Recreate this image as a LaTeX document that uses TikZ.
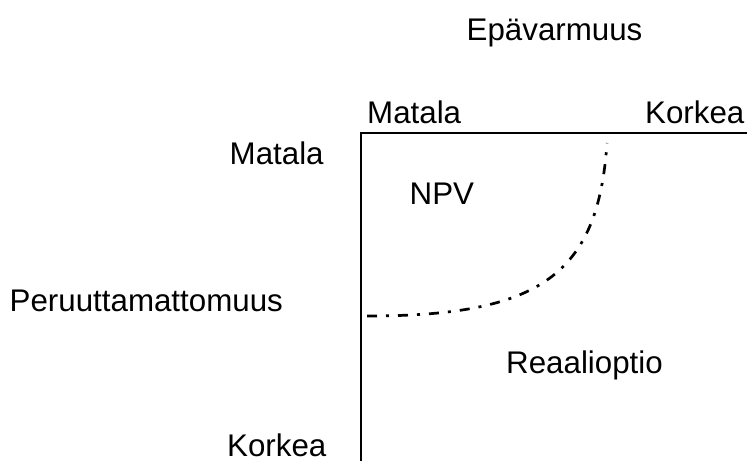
\documentclass[tikz,border=0pt]{standalone}
\usepackage{fontspec}
\setmainfont{Liberation Sans}
\usetikzlibrary{positioning}

\begin{document}
\begin{tikzpicture}[
    x=1pt, y=-1pt,
    lbl/.style={anchor=base west, inner sep=0pt, font=\fontsize{31.3}{37}\selectfont},
    axis/.style={draw, line width=1.2pt},
    boundary/.style={line width=2.7pt, dash pattern=on 10pt off 9pt on 3pt off 9pt}
]
\useasboundingbox (0,0) rectangle (747,461);
% axes
\coordinate (origin) at (361,133);
\coordinate (xend) at (747,133);
\coordinate (yend) at (361,461);
\draw[axis] (xend) -- (origin) -- (yend);

% labels
\node[lbl] (uncert) at (466.5,40) {Epävarmuus};
\node[lbl] (ulow) at (367,123) {Matala};
\node[lbl] (uhigh) at (645,123) {Korkea};
\node[lbl] (ilow) at (229.5,164.3) {Matala};
\node[lbl] (irrev) at (9.5,311) {Peruuttamattomuus};
\node[lbl] (ihigh) at (227,456.7) {Korkea};
\node[lbl] (npv) at (409.5,204.3) {NPV};
\node[lbl] (ropt) at (506,373.3) {Reaalioptio};

% boundary curve
\coordinate (cstart) at (367,316);
\coordinate (cend) at (607,143);
\draw[boundary] (cstart) .. controls (540,316) and (598,275) .. (cend);
\end{tikzpicture}
\end{document}
